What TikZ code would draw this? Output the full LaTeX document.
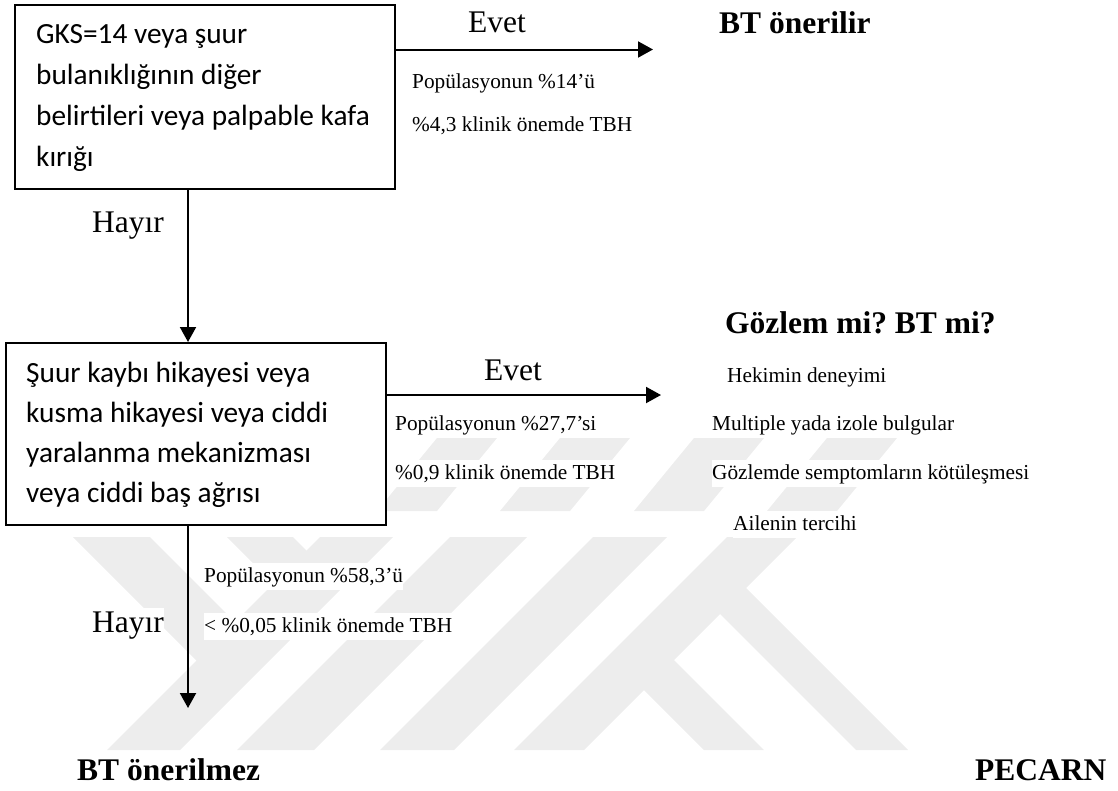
\documentclass[tikz,border=0pt]{standalone}
\usepackage{fontspec}
\setmainfont{Liberation Serif}
\newfontfamily\calfont{Carlito}
\usetikzlibrary{arrows.meta}
\definecolor{wm}{RGB}{237,237,237}
\frenchspacing
\begin{document}
\begin{tikzpicture}[x=1pt,y=-1pt,
  box/.style={draw=black,line width=2pt,fill=white,inner sep=0pt},
  ln/.style={anchor=base west,inner sep=0pt,font={\calfont\fontsize{29.3}{35}\selectfont}},
  lab/.style={anchor=base west,fill=white,inner sep=0pt,text height=24pt,text depth=8pt,font={\fontsize{31.5}{38}\selectfont}},
  big/.style={anchor=base west,fill=white,inner sep=0pt,text height=26pt,text depth=9pt,font={\bfseries\fontsize{31.5}{38}\selectfont}},
  small/.style={anchor=base west,fill=white,inner sep=0pt,text height=19pt,text depth=8pt,font={\fontsize{21.3}{26}\selectfont}},
  arr/.style={line width=2pt,-{Triangle[length=15pt,width=16pt]}}]
\useasboundingbox (0,0) rectangle (1118,790);
% faint watermark
\foreach \a/\b in {437/497,560/630,694/764,827/897}
  \fill[wm] (\a,438) -- (\b,438) -- ({\b-60},511) -- ({\a-60},511) -- cycle;
\foreach \a/\b in {320/393,450/527,593/667,727/797}
  \fill[wm] (\a,537) -- (\b,537) -- ({\b-213},750) -- ({\a-213},750) -- cycle;
\fill[wm] (73,537) -- (150,537) -- (253,640) -- (216,680) -- cycle;
\fill[wm] (227,537) -- (293,537) -- (320,564) -- (290,600) -- cycle;
\fill[wm] (726,568) -- (908,750) -- (856,750) -- (700,594) -- cycle;
\fill[wm] (654,640) -- (764,750) -- (704,750) -- (624,670) -- cycle;
% boxes
\node[box,anchor=north west,minimum width=380.4pt,minimum height=184pt] (b1) at (13.6,4) {};
\node[box,anchor=north west,minimum width=379.5pt,minimum height=181.5pt] (b2) at (5,342) {};
\node[ln] (t11) at (36,43) {GKS=14 veya şuur};
\node[ln] (t12) at (36,84) {bulanıklığının diğer};
\node[ln] (t13) at (36,125) {belirtileri veya palpable kafa};
\node[ln] (t14) at (36,166) {kırığı};
\node[ln] (t21) at (26,382) {Şuur kaybı hikayesi veya};
\node[ln] (t22) at (26,422) {kusma hikayesi veya ciddi};
\node[ln] (t23) at (26,462) {yaralanma mekanizması};
\node[ln] (t24) at (26,502) {veya ciddi baş ağrısı};
% connectors
\coordinate (vx) at (188,0);
\coordinate (e1) at (653,49.5);
\coordinate (e2) at (661,395);
\coordinate (e3) at (188,708);
\draw[arr] (b1.east |- e1) -- (e1);
\draw[arr] (b1.south -| vx) -- (b2.north -| vx);
\draw[arr] (b2.east |- e2) -- (e2);
\draw[arr] (b2.south -| vx) -- (e3);
% labels
\node[lab] (ev1) at (468,32) {Evet};
\node[big] (bt1) at (719,33) {BT önerilir};
\node[small] (p14) at (412,88) {Popülasyonun \%14’ü};
\node[small] (p43) at (412,131) {\%4,3 klinik önemde TBH};
\node[lab] (h1) at (92,232) {Hayır};
\node[lab] (ev2) at (484,380) {Evet};
\node[big] (gz) at (725,333) {Gözlem mi? BT mi?};
\node[small] (hk) at (727,382) {Hekimin deneyimi};
\node[small] (p27) at (395,430) {Popülasyonun \%27,7’si};
\node[small] (ml) at (712,430) {Multiple yada izole bulgular};
\node[small] (p09) at (395,479) {\%0,9 klinik önemde TBH};
\node[small] (gs) at (712,479) {Gözlemde semptomların kötüleşmesi};
\node[small] (ai) at (733,530) {Ailenin tercihi};
\node[small] (p58) at (204,582) {Popülasyonun \%58,3’ü};
\node[lab] (h2) at (92,632) {Hayır};
\node[small] (p005) at (204,632) {< \%0,05 klinik önemde TBH};
\node[big] (bt2) at (77,780) {BT önerilmez};
\node[big] (pec) at (975,780) {PECARN};
\end{tikzpicture}
\end{document}
